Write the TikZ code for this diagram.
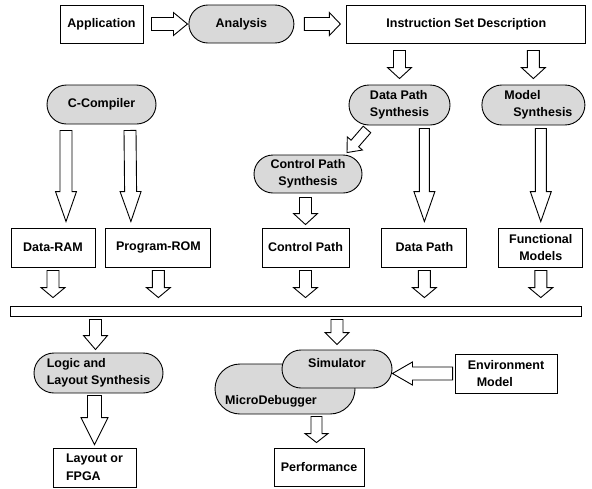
\documentclass[tikz,border=0pt]{standalone}
\usepackage{fontspec}
\setmainfont{Liberation Sans}
\usetikzlibrary{calc}
\usetikzlibrary{positioning}
\usetikzlibrary{shapes.misc}

\begin{document}
\begin{tikzpicture}[x=1pt, y=-1pt, line width=0.9pt, align=center,
	font=\bfseries\fontsize{12.5}{17.5}\selectfont,
	main node/.style={rectangle, draw, inner sep=2pt, minimum height=38pt},
	tool node/.style={rounded rectangle, draw, fill=black!15, inner sep=2pt, minimum height=38pt},
	shaft/.store in=\blkshaft, barb/.store in=\blkbarb, tip len/.store in=\blktip,
	shaft=6pt, barb=12pt, tip len=11pt,
	block arrow/.style={draw, fill=white, line join=miter,
		to path={coordinate (blk-s) (\tikztotarget) coordinate (blk-t)
			($(blk-s)!\blkshaft!90:(blk-t)$) -- ($(blk-t)!\blktip!(blk-s)!\blkshaft!90:(blk-t)$)
			-- ($(blk-t)!\blktip!(blk-s)!\blkbarb!90:(blk-t)$) -- (blk-t)
			-- ($(blk-t)!\blktip!(blk-s)!\blkbarb!-90:(blk-t)$)
			-- ($(blk-t)!\blktip!(blk-s)!\blkshaft!-90:(blk-t)$)
			-- ($(blk-s)!\blkshaft!-90:(blk-t)$) -- cycle}},
]
\useasboundingbox (0,0) rectangle (592,488);
\node [main node, minimum width=83pt] (app) at (101.5,24) {Application};
\node [tool node, minimum width=109pt, right=45pt of app] (ana) {Analysis};
\node [main node, minimum width=239pt, right=52pt of ana] (isd) {Instruction Set Description};
\node [tool node, minimum width=113pt, minimum height=39pt] (cc) at (101.5,104.5) {C-Compiler};
\node [tool node, minimum width=105pt, minimum height=40pt, align=left] (dps) at (399.5,105) {Data Path\\Synthesis};
\node [tool node, minimum width=107pt, minimum height=40pt, align=left, right=31pt of dps] (ms) {\hspace*{10pt}Model\\\hspace*{19pt}Synthesis};
\node [tool node, minimum width=112pt] (cps) at (308,174) {Control Path\\Synthesis};
\node [main node, minimum width=84pt, minimum height=39pt] (dram) at (53,247.5) {Data-RAM};
\node [main node, minimum width=105pt, minimum height=39pt, right=10pt of dram] (prom) {Program-ROM};
\node [main node, minimum width=87pt, minimum height=39pt] (cp) at (305.5,247.5) {Control Path};
\node [main node, minimum width=85pt, minimum height=39pt, right=32pt of cp] (dp) {Data Path};
\node [main node, minimum width=84pt, minimum height=39pt, right=31pt of dp] (fm) {Functional\\Models};
\node [main node, minimum width=571pt, minimum height=10pt, inner sep=0pt] (bus) at (295.5,311) {};
\node [tool node, minimum width=133pt, minimum height=40pt, align=left] (lls) at (98.5,373) {Logic and\\Layout Synthesis};
\node [main node, minimum width=83pt, minimum height=39pt, align=left] (layout) at (94.5,467.5) {Layout or\\FPGA};
\node [tool node, minimum width=144pt, minimum height=50pt] (mdbg) at (285,389)
	{\raisebox{-15.5pt}[0pt][0pt]{\makebox[0pt]{\hspace*{-28pt}MicroDebugger}}};
\node [tool node, minimum width=114pt] (sim) at (337,369) {\raisebox{1.5pt}[0pt][0pt]{Simulator}};
\node [main node, minimum width=102pt, minimum height=39pt, align=left] (env) at (506,373.5) {Environment\\\hspace*{9pt}Model};
\node [main node, minimum width=90pt] (perf) at (319,467) {Performance};
%
\draw [block arrow, shaft=6.5pt, barb=11.5pt, tip len=14pt] ([xshift=8pt]app.east) to ([xshift=-1pt]ana.west);
\draw [block arrow, shaft=6.5pt, barb=11.5pt] ([xshift=10pt]ana.east) to ([xshift=-6pt]isd.west);
\draw [block arrow] ([yshift=-7pt]isd.south -| dps.north) to ([yshift=6pt]dps.north);
\draw [block arrow] ([yshift=-7pt]isd.south -| ms.north) to ([yshift=6pt]ms.north);
\draw [block arrow, tip len=30pt, barb=10.5pt] ([xshift=-35.5pt, yshift=-6pt]cc.south) to ([xshift=13pt, yshift=6pt]dram.north);
\draw [block arrow, tip len=30pt, barb=10.5pt] ([xshift=28.5pt, yshift=-6pt]cc.south) to ([xshift=-27.5pt, yshift=6pt]prom.north);
\draw [block arrow, tip len=30pt, barb=10.5pt, shaft=5pt] ([yshift=-3pt]dps.south -| dp.north) to ([yshift=6pt]dp.north);
\draw [block arrow, tip len=30pt, barb=10.5pt, shaft=5.5pt] ([yshift=-3pt]ms.south -| fm.north) to ([yshift=6pt]fm.north);
\draw [block arrow, shaft=5pt, barb=10pt, tip len=12pt] ([xshift=-32.5pt, yshift=-4pt]dps.south) to ([xshift=39pt, yshift=2pt]cps.north);
\draw [block arrow] ([yshift=-4pt]cps.south -| cp.north) to ([yshift=3pt]cp.north);
\draw [block arrow, tip len=10pt] ([yshift=-3pt]dram.south) to ([yshift=8pt]bus.north -| dram.south);
\draw [block arrow, tip len=10pt] ([yshift=-3pt]prom.south) to ([yshift=8pt]bus.north -| prom.south);
\draw [block arrow, tip len=10pt] ([yshift=-3pt]cp.south) to ([yshift=8pt]bus.north -| cp.south);
\draw [block arrow, tip len=10pt] ([yshift=-3pt]dp.south) to ([yshift=8pt]bus.north -| dp.south);
\draw [block arrow, tip len=10pt] ([yshift=-3pt]fm.south) to ([yshift=8pt]bus.north -| fm.south);
\draw [block arrow, tip len=14pt] ([xshift=-3pt, yshift=-3pt]bus.south -| lls.north) to ([xshift=-3pt, yshift=3pt]lls.north);
\draw [block arrow, tip len=12pt] ([yshift=-3pt]bus.south -| sim.north) to ([yshift=5pt]sim.north);
\draw [block arrow, shaft=7pt, barb=13.5pt, tip len=27pt] ([yshift=-2pt]lls.south -| layout.north) to ([yshift=3pt]layout.north);
\draw [block arrow, shaft=6.5pt, barb=11.5pt, tip len=20pt] ([xshift=-2pt]env.west) to (sim.east |- env.west);
\draw [block arrow, shaft=5.5pt, barb=11.5pt, tip len=9pt] ([xshift=-2.5pt, yshift=-2pt]mdbg.south -| perf.north) to ([xshift=-2.5pt, yshift=5pt]perf.north);
\end{tikzpicture}
\end{document}
